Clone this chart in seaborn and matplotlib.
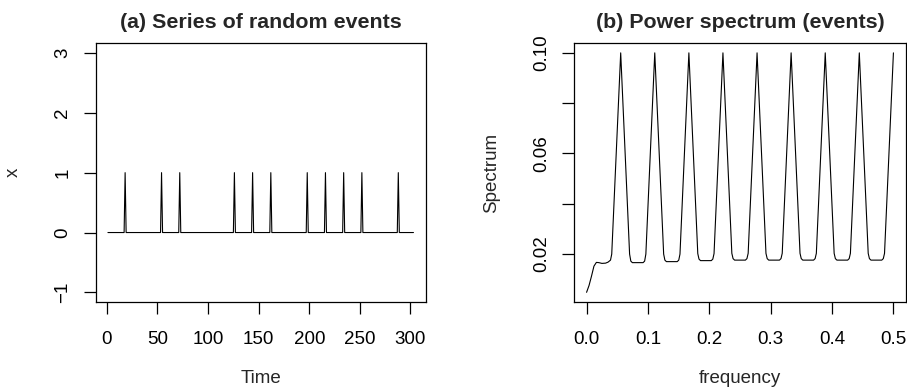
import numpy as np
import pandas as pd
from matplotlib import pyplot as plt
import seaborn as sns

# (a) event series: length and the times where an event happens
n_points = 303
event_times = [18, 54, 72, 126, 144, 162, 198, 216, 234, 252, 288]

# (b) power spectrum, vertices
spec_freq = [
    0.000, 0.004, 0.008, 0.012, 0.016, 0.020, 0.025, 0.031, 0.035, 0.039, 0.041, 0.0556,
    0.0701, 0.0721, 0.0746, 0.0921, 0.0946, 0.0966, 0.1111,
    0.1256, 0.1276, 0.1301, 0.1477, 0.1502, 0.1522, 0.1667,
    0.1812, 0.1832, 0.1857, 0.2032, 0.2057, 0.2077, 0.2222,
    0.2367, 0.2387, 0.2412, 0.2588, 0.2613, 0.2633, 0.2778,
    0.2923, 0.2943, 0.2968, 0.3143, 0.3168, 0.3188, 0.3333,
    0.3478, 0.3498, 0.3523, 0.3699, 0.3724, 0.3744, 0.3889,
    0.4034, 0.4054, 0.4079, 0.4254, 0.4279, 0.4299, 0.4444,
    0.4589, 0.4609, 0.4634, 0.4810, 0.4835, 0.4855, 0.5000,
]
spec_value = [
    0.0048, 0.0075, 0.0112, 0.0152, 0.0167, 0.0166, 0.0163, 0.0164, 0.0168, 0.0176, 0.0200, 0.1000,
    0.0200, 0.0172, 0.0166, 0.0166, 0.0172, 0.0200, 0.1000,
    0.0200, 0.0176, 0.0170, 0.0170, 0.0176, 0.0200, 0.1000,
    0.0202, 0.0180, 0.0174, 0.0174, 0.0180, 0.0202, 0.1000,
    0.0203, 0.0182, 0.0176, 0.0176, 0.0182, 0.0203, 0.1000,
    0.0203, 0.0182, 0.0176, 0.0176, 0.0182, 0.0203, 0.1000,
    0.0203, 0.0182, 0.0176, 0.0176, 0.0182, 0.0203, 0.1000,
    0.0203, 0.0182, 0.0176, 0.0176, 0.0182, 0.0203, 0.1000,
    0.0203, 0.0182, 0.0176, 0.0176, 0.0182, 0.0203, 0.1000,
]

sns.set_style("ticks")
plt.rcParams['font.family'] = ['Liberation Sans', 'DejaVu Sans']
plt.rcParams['font.size'] = 13.5
plt.rcParams['axes.linewidth'] = 0.9
plt.rcParams['axes.edgecolor'] = 'black'
plt.rcParams['xtick.color'] = 'black'
plt.rcParams['ytick.color'] = 'black'

x = np.zeros(n_points)
x[np.array(event_times) - 1] = 1
events = pd.DataFrame({'Time': np.arange(1, n_points + 1), 'x': x})
spec = pd.DataFrame({'frequency': spec_freq, 'Spectrum': spec_value})

W, H = 907, 389
fig = plt.figure(figsize=(W / 100, H / 100), dpi=100)
ax1 = fig.add_axes([95.7 / W, 1 - 302 / H, 330 / W, 258.7 / H])
ax2 = fig.add_axes([574.3 / W, 1 - 302 / H, 331.4 / W, 258.7 / H])

sns.lineplot(data=events, x='Time', y='x', ax=ax1, color='black',
             linewidth=0.8, estimator=None)
sns.lineplot(data=spec, x='frequency', y='Spectrum', ax=ax2, color='black',
             linewidth=0.8, estimator=None)

ax1.set_xlim(1 - 0.04 * (n_points - 1), n_points + 0.04 * (n_points - 1))
ax1.set_ylim(-1.16, 3.16)
ax1.set_xticks([0, 50, 100, 150, 200, 250, 300])
ax1.set_yticks([-1, 0, 1, 2, 3])
ax1.set_yticklabels(['\u22121', '0', '1', '2', '3'])
ax1.set_title('(a) Series of random events', fontweight='bold', fontsize=15.4, pad=11)

ax2.set_xlim(-0.02, 0.52)
ax2.set_ylim(0.00095, 0.1038)
ax2.set_xticks([0.0, 0.1, 0.2, 0.3, 0.4, 0.5])
ax2.set_xticklabels(['0.0', '0.1', '0.2', '0.3', '0.4', '0.5'])
ax2.set_yticks([0.02, 0.04, 0.06, 0.08, 0.10])
ax2.set_yticklabels(['0.02', '', '0.06', '', '0.10'])
ax2.set_title('(b) Power spectrum (events)', fontweight='bold', fontsize=15.4, pad=11)

for ax in (ax1, ax2):
    for s in ax.spines.values():
        s.set_visible(True)
    ax.tick_params(direction='out', length=8.6, width=0.9, pad=12)
    ax.tick_params(axis='y', pad=9)
    for lbl in ax.get_yticklabels():
        lbl.set_rotation(90)
        lbl.set_va('center')
    ax.xaxis.label.set_va('center')
    ax.yaxis.label.set_va('center')
    ax.xaxis.set_label_coords(0.5, -0.294)

ax1.yaxis.set_label_coords(-0.251, 0.5)
ax2.yaxis.set_label_coords(-0.249, 0.5)

fig.savefig('out.png', dpi=100)
